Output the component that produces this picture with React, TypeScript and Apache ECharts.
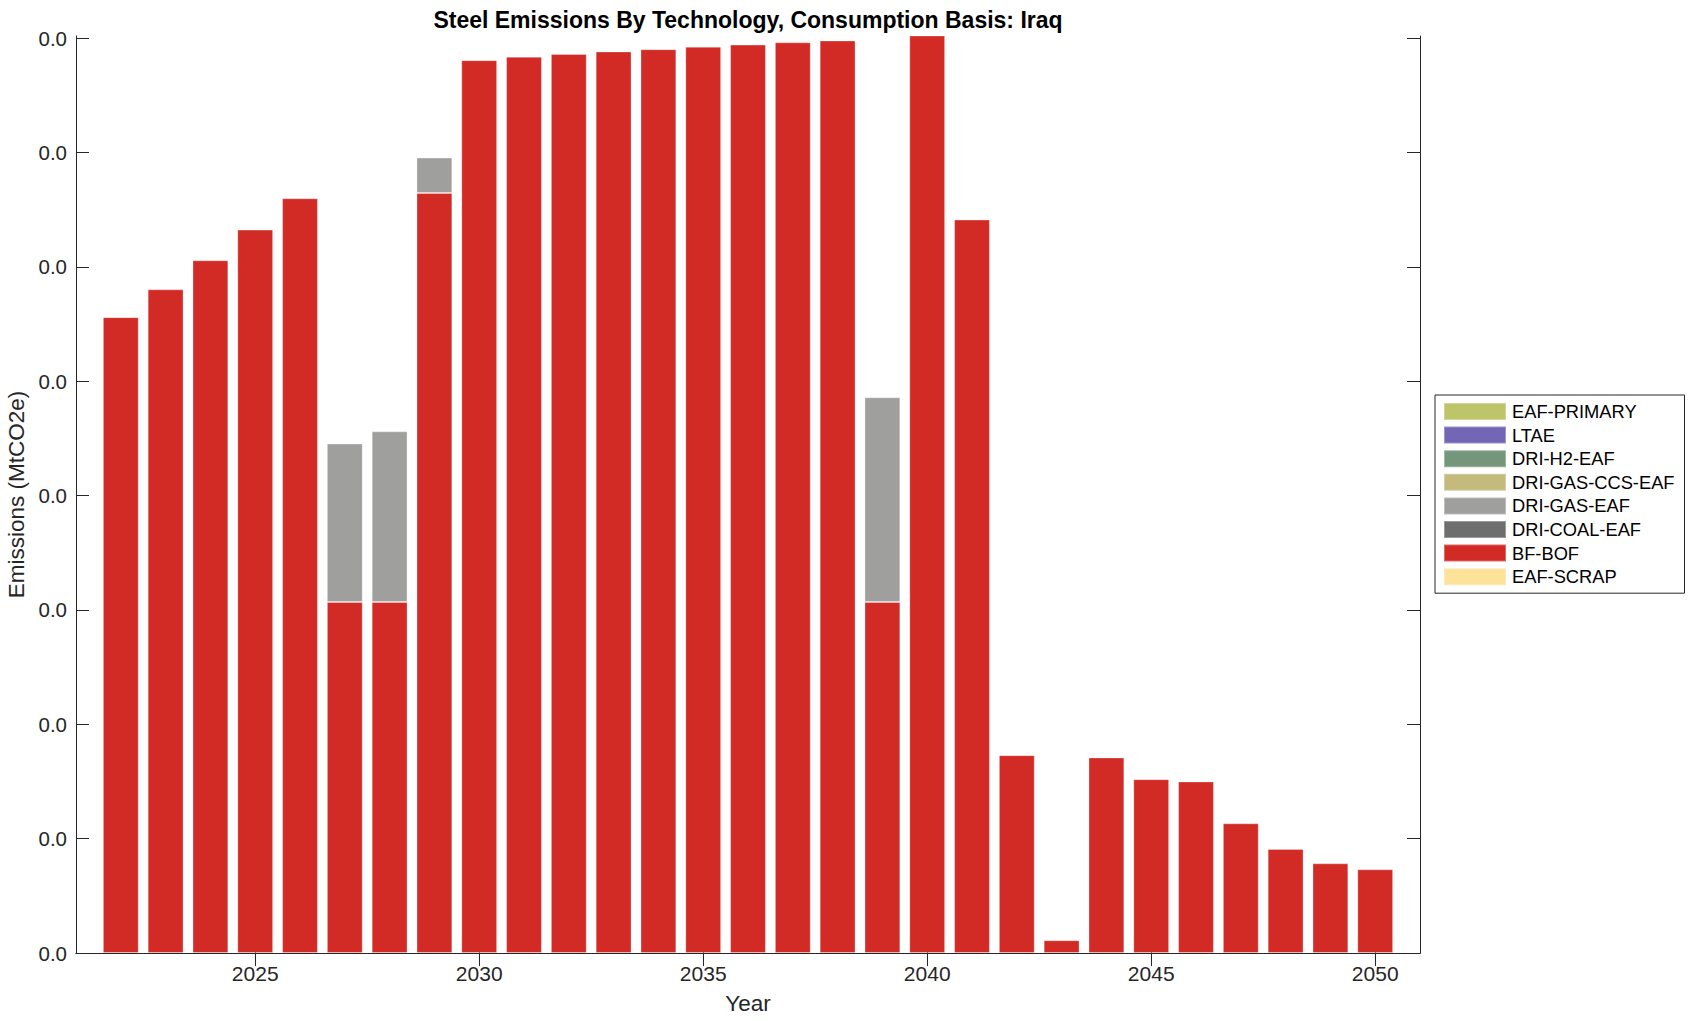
import React, { useEffect, useRef } from 'react';
import * as echarts from 'echarts';

const years = [2022, 2023, 2024, 2025, 2026, 2027, 2028, 2029, 2030, 2031, 2032, 2033, 2034, 2035, 2036, 2037, 2038, 2039, 2040, 2041, 2042, 2043, 2044, 2045, 2046, 2047, 2048, 2049, 2050];

const eafScrap = years.map(() => 0);
const bfBof = [0.02780, 0.02902, 0.03029, 0.03163, 0.03300, 0.01535, 0.01535, 0.03323, 0.03904, 0.03919, 0.03931, 0.03942, 0.03952, 0.03963, 0.03972, 0.03982, 0.03990, 0.01535, 0.04020, 0.03207, 0.00865, 0.00056, 0.00855, 0.00760, 0.00750, 0.00567, 0.00455, 0.00392, 0.00366];
const driCoalEaf = years.map(() => 0);
const driGasEaf = [0, 0, 0, 0, 0, 0.00693, 0.00746, 0.00155, 0, 0, 0, 0, 0, 0, 0, 0, 0, 0.00895, 0, 0, 0, 0, 0, 0, 0, 0, 0, 0, 0];
const driGasCcsEaf = years.map(() => 0);
const driH2Eaf = years.map(() => 0);
const ltae = years.map(() => 0);
const eafPrimary = years.map(() => 0);

// x-axis extent (years) and tick labels
const xMin = 2021;
const xMax = 2051;
const xTicks = [2025, 2030, 2035, 2040, 2045, 2050];
const yTicks = [0, 0.005, 0.01, 0.015, 0.02, 0.025, 0.03, 0.035, 0.04];

const legendOrder = ['EAF-PRIMARY', 'LTAE', 'DRI-H2-EAF', 'DRI-GAS-CCS-EAF', 'DRI-GAS-EAF', 'DRI-COAL-EAF', 'BF-BOF', 'EAF-SCRAP'];

const stackSeries = [
  { name: 'EAF-SCRAP', values: eafScrap, color: '#fde399' },
  { name: 'BF-BOF', values: bfBof, color: '#d22b26' },
  { name: 'DRI-COAL-EAF', values: driCoalEaf, color: '#6e6e6e' },
  { name: 'DRI-GAS-EAF', values: driGasEaf, color: '#9f9f9d' },
  { name: 'DRI-GAS-CCS-EAF', values: driGasCcsEaf, color: '#c3ba7c' },
  { name: 'DRI-H2-EAF', values: driH2Eaf, color: '#74977b' },
  { name: 'LTAE', values: ltae, color: '#7266b5' },
  { name: 'EAF-PRIMARY', values: eafPrimary, color: '#bec46a' },
];

const AXIS = '#262626';
const FONT = 'Liberation Sans, Arial, sans-serif';

export default function App() {
  const ref = useRef<HTMLDivElement>(null);
  useEffect(() => {
    document.body.style.margin = '0';
    const chart = echarts.init(ref.current!, null, { renderer: 'svg' });
    const gridLeft = 76, gridRight = 276, gridTop = 36, gridBottom = 68;
    const plotW = 1696 - gridLeft - gridRight;
    const barW = (plotW / (xMax - xMin)) * 0.8;
    const yMax = 0.040096;
    const axisYears: number[] = [];
    for (let y = xMin; y <= xMax; y++) axisYears.push(y);
    const isTick = (_i: number, v: string) => xTicks.includes(Number(v));
    const tickCommon = { show: true, inside: true, length: 13, lineStyle: { color: AXIS, width: 1 } };
    chart.setOption({
      animation: false,
      backgroundColor: '#ffffff',
      title: {
        text: 'Steel Emissions By Technology, Consumption Basis: Iraq',
        left: gridLeft + plotW / 2,
        textAlign: 'center',
        top: 8,
        padding: 0,
        textStyle: { fontFamily: FONT, fontSize: 23, fontWeight: 'bold', color: '#000' },
      },
      legend: {
        orient: 'vertical',
        left: 1435,
        top: 395,
        data: legendOrder,
        icon: 'rect',
        itemWidth: 62,
        itemHeight: 17,
        itemGap: 4.6,
        padding: [7, 10, 7, 8],
        borderColor: AXIS,
        borderWidth: 1,
        selectedMode: false,
        textStyle: { fontFamily: FONT, fontSize: 18.3, color: '#000', padding: [0, 0, 0, 1] },
      },
      grid: { left: gridLeft, right: gridRight, top: gridTop, bottom: gridBottom, containLabel: false, outerBoundsMode: 'none' },
      xAxis: [
        {
          type: 'category', data: axisYears.map(String), boundaryGap: false, position: 'bottom',
          name: 'Year', nameLocation: 'middle', nameGap: 39,
          nameTextStyle: { fontFamily: FONT, fontSize: 22.5, color: AXIS },
          axisLine: { show: true, lineStyle: { color: AXIS, width: 1 } },
          axisTick: { ...tickCommon, interval: isTick },
          axisLabel: { interval: isTick, margin: 10, fontFamily: FONT, fontSize: 21, color: AXIS },
          splitLine: { show: false },
        },
        {
          type: 'value', min: xMin, max: xMax, position: 'top',
          axisLine: { show: true, lineStyle: { color: AXIS, width: 1 } },
          axisTick: { ...tickCommon, customValues: xTicks },
          axisLabel: { show: false },
          splitLine: { show: false },
        },
      ],
      yAxis: [
        {
          type: 'value', min: 0, max: yMax, position: 'left',
          name: 'Emissions (MtCO2e)', nameLocation: 'middle', nameGap: 44, nameRotate: 90,
          nameTextStyle: { fontFamily: FONT, fontSize: 22.5, color: AXIS },
          axisLine: { show: true, lineStyle: { color: AXIS, width: 1 } },
          axisTick: { ...tickCommon, customValues: yTicks },
          axisLabel: { customValues: yTicks, margin: 9, fontFamily: FONT, fontSize: 20.5, color: AXIS, formatter: (v: number) => v.toFixed(1) },
          splitLine: { show: false },
        },
        {
          type: 'value', min: 0, max: yMax, position: 'right',
          axisLine: { show: true, lineStyle: { color: AXIS, width: 1 } },
          axisTick: { ...tickCommon, customValues: yTicks },
          axisLabel: { show: false },
          splitLine: { show: false },
        },
      ],
      series: stackSeries.map((s) => ({
        name: s.name,
        type: 'bar',
        stack: 'total',
        xAxisIndex: 0,
        yAxisIndex: 0,
        barWidth: barW,
        clip: true,
        itemStyle: { color: s.color, borderColor: 'rgba(255,255,255,0.3)', borderWidth: 1 },
        data: axisYears.map((y) => {
          const i = years.indexOf(y);
          const v = i >= 0 ? s.values[i] : 0;
          return v === 0
            ? { value: 0, itemStyle: { borderWidth: 0, opacity: 0 } }
            : { value: v };
        }),
      })),
    });
    return () => chart.dispose();
  }, []);
  return <div ref={ref} style={{ width: 1696, height: 1021 }} />;
}
